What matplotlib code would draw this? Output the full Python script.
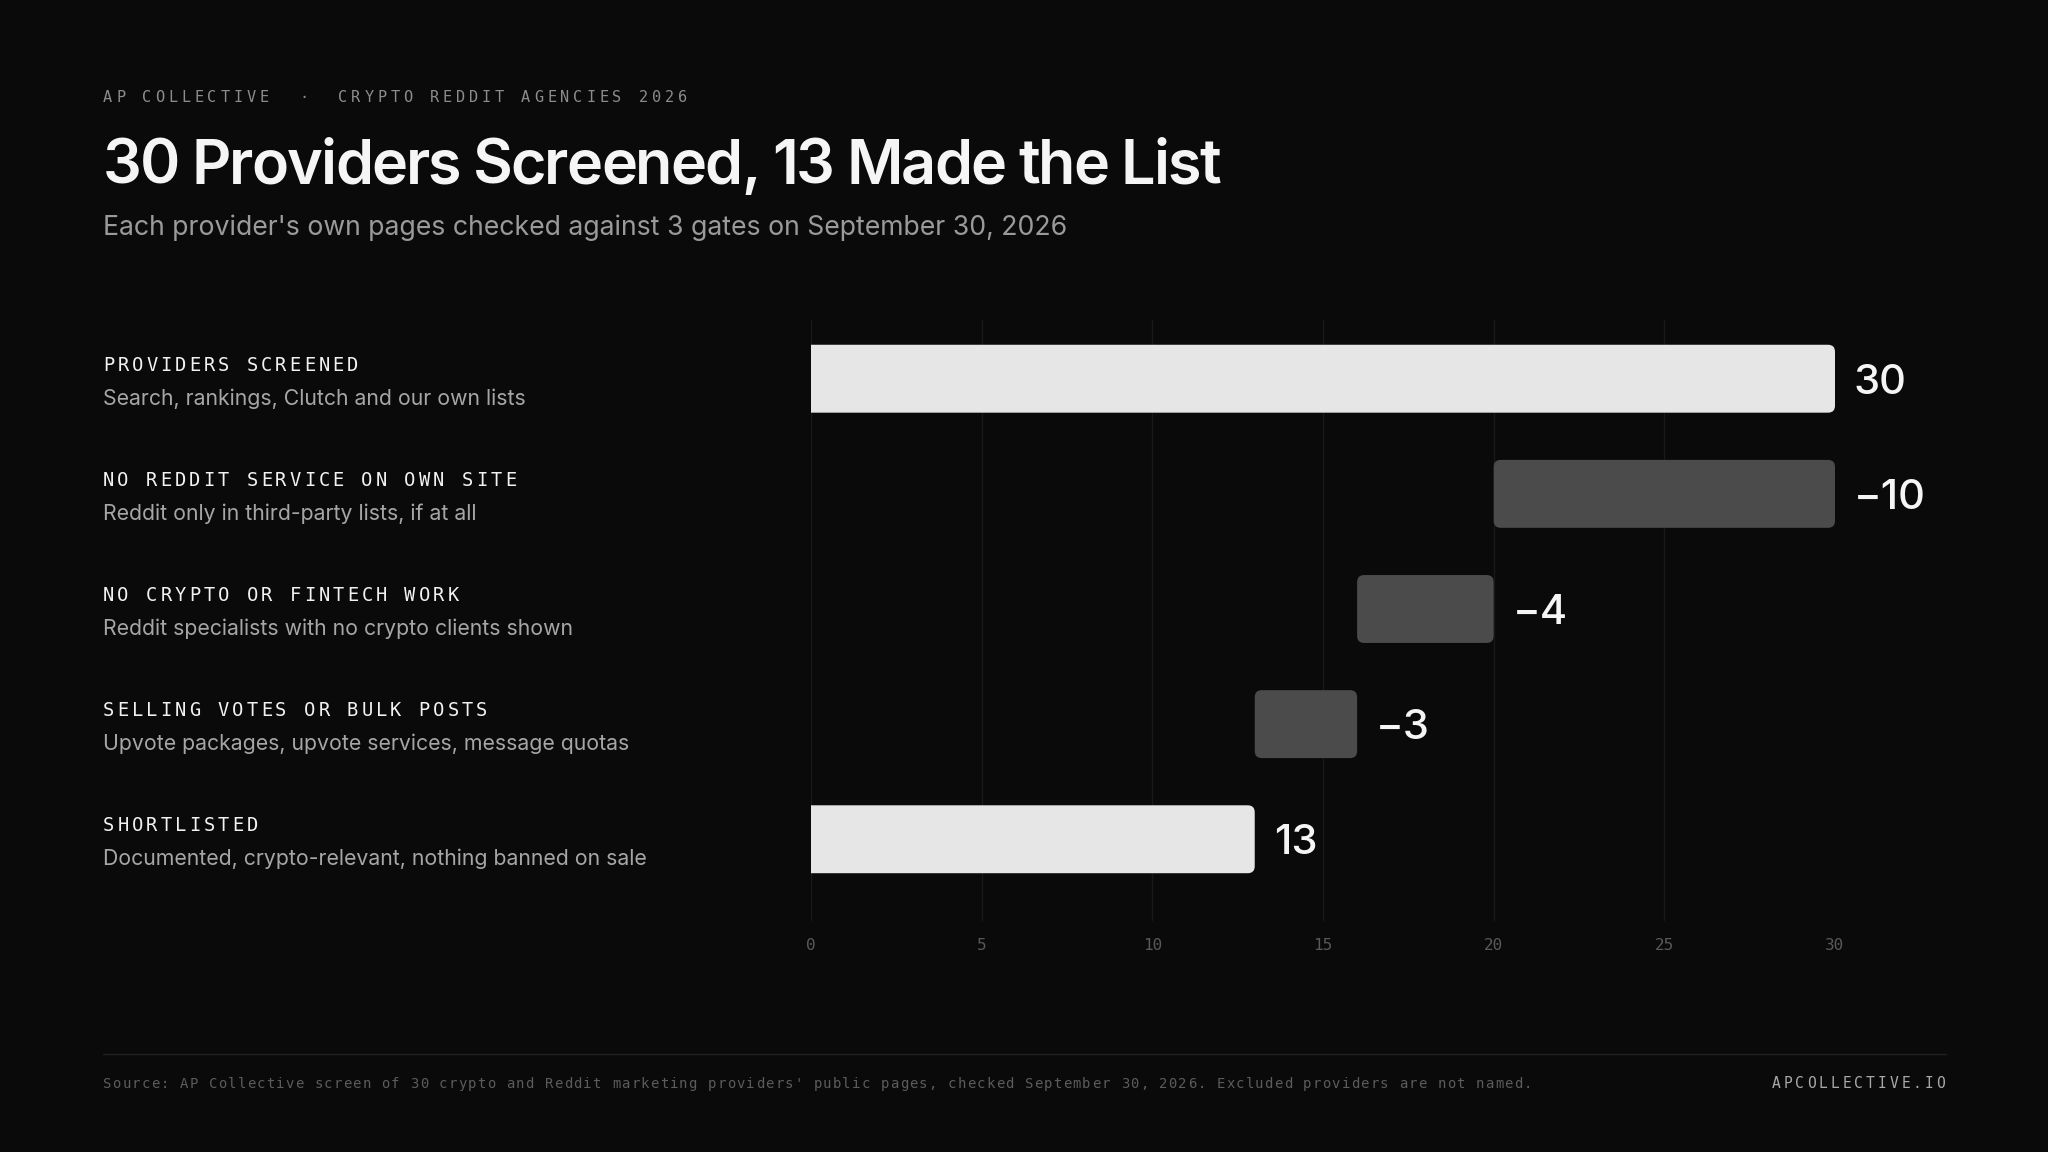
import matplotlib.pyplot as plt
from matplotlib.patches import FancyBboxPatch
from matplotlib.font_manager import FontProperties
from matplotlib.transforms import blended_transform_factory, offset_copy

# data
stage_labels = [
    "PROVIDERS SCREENED",
    "NO REDDIT SERVICE ON OWN SITE",
    "NO CRYPTO OR FINTECH WORK",
    "SELLING VOTES OR BULK POSTS",
    "SHORTLISTED",
]
stage_notes = [
    "Search, rankings, Clutch and our own lists",
    "Reddit only in third-party lists, if at all",
    "Reddit specialists with no crypto clients shown",
    "Upvote packages, upvote services, message quotas",
    "Documented, crypto-relevant, nothing banned on sale",
]
stage_values = [30, -10, -4, -3, 13]
stage_is_total = [True, False, False, False, True]
x_ticks = [0, 5, 10, 15, 20, 25, 30]

BG = "#0a0a0a"
MONO = "DejaVu Sans Mono"
SANS = ["Inter", "DejaVu Sans"]
W, H, DPI = 2048, 1152, 100

fig = plt.figure(figsize=(W / DPI, H / DPI), dpi=DPI, facecolor=BG)
renderer = fig.canvas.get_renderer()


def fx(px):
    return px / W


def fy(px):
    return 1 - px / H


def spaced(x, y, s, step, transform=None, **kw):
    # monospace text drawn one char at a time to get letter spacing
    for i, ch in enumerate(s):
        if transform is None:
            fig.text(fx(x + i * step), fy(y), ch, family=MONO, va="baseline", **kw)
        else:
            tr = offset_copy(transform, x=i * step, y=0, units="dots")
            fig.text(x, y, ch, family=MONO, va="baseline", transform=tr, **kw)


def tracked(x, y, s, size, weight, width, **kw):
    # proportional text squeezed to a given width by tracking, keeps kerning
    prop = FontProperties(family=SANS, size=size, weight=weight)
    full = renderer.get_text_width_height_descent(s, prop, ismath=False)[0]
    track = (width - full) / (len(s) - 1)
    for i, ch in enumerate(s):
        pre = renderer.get_text_width_height_descent(s[:i], prop, ismath=False)[0] if i else 0
        fig.text(fx(x + pre + i * track), fy(y), ch, fontproperties=prop,
                 va="baseline", **kw)


# header
spaced(103, 102, "AP COLLECTIVE  \u00b7  CRYPTO REDDIT AGENCIES 2026", 13.06,
       fontsize=11, color="#8c8c8c")
tracked(103, 184, "30 Providers Screened, 13 Made the List", 44, "semibold", 1118,
        color="#f5f5f5")
fig.text(fx(103), fy(235), "Each provider's own pages checked against 3 gates on September 30, 2026",
         family=SANS, fontsize=19.2, color="#9a9a9a", va="baseline")

# axes
ax = fig.add_axes([811 / W, 231 / H, 1024 / W, 601 / H])
ax.set_facecolor(BG)
ax.set_xlim(0, 30)
ax.set_ylim(4.71, -0.51)
for s in ax.spines.values():
    s.set_visible(False)
ax.set_yticks([])
ax.set_xticks(x_ticks)
ax.tick_params(axis="x", length=0, pad=12, labelsize=11.5, labelcolor="#595959")
for lab in ax.get_xticklabels():
    lab.set_family(MONO)
for t in x_ticks:
    ax.axvline(t, color="#191919", lw=1, zorder=0)

px_x = 1024 / 30
px_y = 115
aspect = px_x / px_y
bar_h = 0.59
radius = 7 / px_x

running = 0
for i, (v, tot) in enumerate(zip(stage_values, stage_is_total)):
    if tot:
        left, width = 0, v
        running = v
        color = "#e6e6e6"
        start = -0.6  # square left edge, clipped by axes
    else:
        left, width = running + v, -v
        running += v
        color = "#4b4b4b"
        start = left
    patch = FancyBboxPatch((start, i - bar_h / 2), left + width - start, bar_h,
                           boxstyle=f"round,pad=0,rounding_size={radius}",
                           mutation_aspect=aspect, fc=color, ec="none", zorder=2)
    ax.add_patch(patch)
    txt = str(v) if v >= 0 else "\u2212" + str(-v)
    ax.annotate(txt, (left + width, i), xytext=(19, -15), textcoords="offset pixels",
                family=SANS, fontsize=30, fontweight="medium", color="#f5f5f5",
                va="baseline", ha="left", annotation_clip=False)

# row labels
tr = blended_transform_factory(fig.transFigure, ax.transData)
for i, (lab, note) in enumerate(zip(stage_labels, stage_notes)):
    spaced(fx(103), i, lab, 14.35, transform=offset_copy(tr, x=0, y=8, units="dots"),
           fontsize=13.5, color="#f2f2f2")
    ax.text(fx(103), i, note, transform=offset_copy(tr, x=0, y=-26, units="dots"),
            family=SANS, fontsize=15.3, color="#a6a6a6", va="baseline")

# footer
fig.add_artist(plt.Line2D([fx(103), fx(1946)], [fy(1054), fy(1054)], color="#202020", lw=1))
spaced(103, 1088, "Source: AP Collective screen of 30 crypto and Reddit marketing providers' "
       "public pages, checked September 30, 2026. Excluded providers are not named.",
       9.6, fontsize=10, color="#5c5c5c")
spaced(1772, 1088, "APCOLLECTIVE.IO", 11.75, fontsize=10.5, color="#a8a8a8")

fig.savefig("out.png", dpi=DPI, facecolor=BG)
